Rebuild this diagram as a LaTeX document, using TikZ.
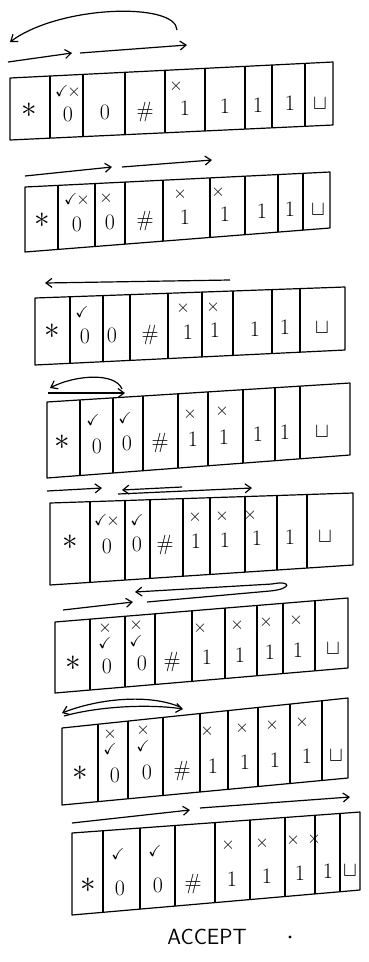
\documentclass[tikz,border=0pt]{standalone}
\usepackage{amssymb}
\usetikzlibrary{arrows.meta}
\tikzset{
  tapeline/.style={line width=1.2pt, line join=round},
  arr/.style={line width=1.2pt, -{Straight Barb[length=6pt,width=9pt]}},
  sym/.style={inner sep=0pt, text height=15pt, text depth=0pt, font=\fontsize{22}{24}\selectfont},
  mk/.style={inner sep=0pt, font=\fontsize{16}{16}\selectfont},
  lbl/.style={inner sep=0pt, font=\sffamily\fontsize{22}{24}\selectfont}
}
\newcommand\tck{$\checkmark$}
\newcommand\txx{$\times$}
\newcommand\tckx{\tck\hspace{-1pt}\txx}
\newcommand\txck{\shortstack{\txx\\[1pt]\tck}}
\newcommand\tstar{\raisebox{6pt}{\scalebox{1.5}{$\ast$}}}
\newcommand\tblank{$\sqcup$}
% #1 id, #2 xl, #3 xr, #4 ytl, #5 ytr, #6 ybl, #7 ybr, #8 boundaries
\newcommand\tapedraw[8]{%
  \draw[tapeline] (#2,#4) -- (#3,#5) -- (#3,#7) -- (#2,#6) -- cycle;
  \foreach \b in {#8}{
    \pgfmathsetmacro\ta{#4+(#5-#4)*(\b-#2)/(#3-#2)}
    \pgfmathsetmacro\tb{#6+(#7-#6)*(\b-#2)/(#3-#2)}
    \draw[tapeline] (\b,\ta) -- (\b,\tb);
  }
  \gdef\txl{#2}\gdef\txr{#3}\gdef\tytl{#4}\gdef\tytr{#5}\gdef\tybl{#6}\gdef\tybr{#7}\gdef\tid{#1}%
}
% #1 frac, #2 list cx/sym
\newcommand\tapesyms[2]{%
  \foreach \cx/\s [count=\i] in {#2}{
    \pgfmathsetmacro\ta{\tytl+(\tytr-\tytl)*(\cx-\txl)/(\txr-\txl)}
    \pgfmathsetmacro\tb{\tybl+(\tybr-\tybl)*(\cx-\txl)/(\txr-\txl)}
    \node[sym] (\tid s\i) at (\cx,{\ta+#1*(\tb-\ta)}) {\s};
  }
}
\newcommand\tapemarks[2]{%
  \foreach \cx/\m [count=\i] in {#2}{
    \pgfmathsetmacro\ta{\tytl+(\tytr-\tytl)*(\cx-\txl)/(\txr-\txl)}
    \pgfmathsetmacro\tb{\tybl+(\tybr-\tybl)*(\cx-\txl)/(\txr-\txl)}
    \node[mk] (\tid m\i) at (\cx,{\ta+#1*(\tb-\ta)}) {\m};
  }
}
\begin{document}
\begin{tikzpicture}[x=1pt,y=-1pt]
\useasboundingbox (0,0) rectangle (369,962);

% ---------- tape 1
\tapedraw{a}{10}{333}{78}{62}{140}{125}{50,83,125,165,205,245,272,305}
\tapesyms{0.62}{29/\tstar,68/0,105/0,145/\#,185/1,225/1,258/1,290/1,320/\tblank}
\tapemarks{0.27}{68/\tckx,176/\txx}
\coordinate (a1s) at (177,30); \coordinate (a1e) at (10,42);
\coordinate (a2s) at (8,62);   \coordinate (a2e) at (72,53);
\coordinate (a3s) at (80,53);  \coordinate (a3e) at (187,45);
\draw[arr] (a1s) .. controls (176,2) and (60,5) .. (a1e);
\draw[arr] (a2s) -- (a2e);
\draw[arr] (a3s) -- (a3e);

% ---------- tape 2
\tapedraw{b}{25}{330}{187}{172}{252}{228}{58,95,125,163,210,245,278,303}
\tapesyms{0.62}{42/\tstar,77/0,110/0,145/\#,185/1,225/1,262/1,290/1,318/\tblank}
\tapemarks{0.24}{77/\tckx,106/\txx,180/\txx,218/\txx}
\coordinate (b1s) at (25,176);  \coordinate (b1e) at (112,167);
\coordinate (b2s) at (122,167); \coordinate (b2e) at (212,160);
\draw[arr] (b1s) -- (b1e);
\draw[arr] (b2s) -- (b2e);

% ---------- tape 3
\tapedraw{c}{35}{345}{298}{287}{365}{350}{70,103,130,168,202,233,272,300}
\tapesyms{0.6}{52/\tstar,85/0,112/0,150/\#,188/1,215/1,255/1,285/1,322/\tblank}
\tapemarks{0.24}{82/\tck,183/\txx,213/\txx}
\coordinate (c1s) at (230,280); \coordinate (c1e) at (45,283);
\draw[arr] (c1s) -- (c1e);

% ---------- tape 4
\tapedraw{d}{47}{350}{402}{383}{478}{455}{80,113,143,178,208,243,275,300}
\tapesyms{0.62}{62/\tstar,97/0,127/0,160/\#,193/1,224/1,258/1,285/1,322/\tblank}
\tapemarks{0.28}{93/\tck,125/\tck,190/\txx,222/\txx}
\coordinate (d1s) at (122,389); \coordinate (d1e) at (50,388);
\coordinate (d2s) at (48,393);  \coordinate (d2e) at (125,393);
\draw[arr] (d1s) .. controls (115,372) and (75,375) .. (d1e);
\draw[arr] (d2s) -- (d2e);

% ---------- arrows between tape 4 and 5
\coordinate (e1s) at (47,491);  \coordinate (e1e) at (102,488);
\coordinate (e2s) at (182,487); \coordinate (e2e) at (122,490);
\coordinate (e3s) at (118,494); \coordinate (e3e) at (252,488);
\draw[arr] (e1s) -- (e1e);
\draw[arr] (e2s) -- (e2e);
\draw[arr] (e3s) -- (e3e);

% ---------- tape 5
\tapedraw{e}{50}{353}{503}{493}{585}{565}{90,125,150,183,210,245,277,307}
\tapesyms{0.56}{70/\tstar,107/0,137/0,165/\#,196/1,225/1,257/1,290/1,325/\tblank}
\tapemarks{0.25}{107/\tckx,137/\tck,195/\txx,222/\txx,250/\txx}

% ---------- arrows between tape 5 and 6
\coordinate (f1s) at (147,602); \coordinate (f1e) at (135,592);
\coordinate (f2s) at (63,610);  \coordinate (f2e) at (133,602);
\draw[arr] (f1s) -- (270,591) .. controls (292,589) and (292,580) .. (272,584) -- (f1e);
\draw[arr] (f2s) -- (f2e);

% ---------- tape 6
\tapedraw{f}{55}{348}{622}{598}{693}{668}{90,125,155,192,225,257,283,315}
\tapesyms{0.68}{73/\tstar,107/0,142/0,172/\#,207/1,240/1,270/1,298/1,333/\tblank}
\tapemarks{0.25}{105/\txck,136/\txck,200/\txx,237/\txx,266/\txx,296/\txx}

% ---------- arrows between tape 6 and 7
\coordinate (g1s) at (180,707); \coordinate (g1e) at (62,713);
\coordinate (g2s) at (64,716);  \coordinate (g2e) at (183,709);
\draw[arr] (g1s) .. controls (150,694) and (100,698) .. (g1e);
\draw[arr] (g2s) .. controls (100,706) and (150,704) .. (g2e);

% ---------- tape 7
\tapedraw{g}{62}{348}{728}{698}{805}{778}{98,128,163,200,228,258,290,322}
\tapesyms{0.68}{80/\tstar,115/0,147/0,182/\#,213/1,245/1,275/1,307/1,336/\tblank}
\tapemarks{0.24}{110/\txck,143/\txck,207/\txx,242/\txx,272/\txx,302/\txx}

% ---------- arrows between tape 7 and 8
\coordinate (h1s) at (72,823);  \coordinate (h1e) at (190,810);
\coordinate (h2s) at (200,808); \coordinate (h2e) at (350,797);
\draw[arr] (h1s) -- (h1e);
\draw[arr] (h2s) -- (h2e);

% ---------- tape 8
\tapedraw{h}{72}{360}{833}{812}{915}{890}{103,140,175,215,250,285,315,340}
\tapesyms{0.72}{88/\tstar,120/0,158/0,193/\#,232/1,267/1,300/1,328/1,350/\tblank}
\tapemarks{0.3}{118/\tck,155/\tck,228/\txx,262/\txx,293/\txx,314/\txx}

\node[lbl] (acc) at (207,937) {ACCEPT};
\fill (290,937) circle (1.6pt);
\end{tikzpicture}
\end{document}
